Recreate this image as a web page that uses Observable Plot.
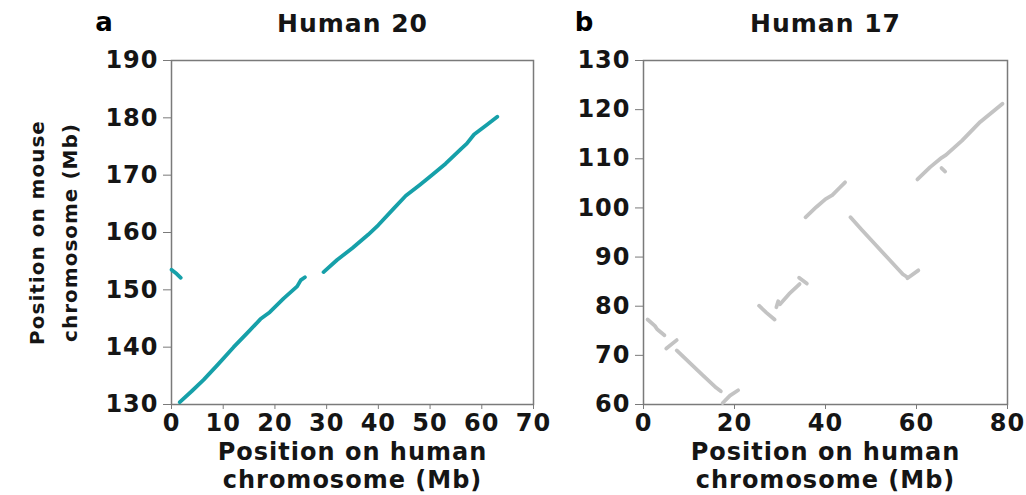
<!DOCTYPE html>
<html><head><meta charset="utf-8">
<script src="https://cdn.jsdelivr.net/npm/d3@7"></script>
<script src="https://cdn.jsdelivr.net/npm/@observablehq/plot@0.6"></script>
<style>
body{margin:0;background:#fff;}
#wrap{position:relative;width:1026px;height:495px;overflow:hidden;background:#fff;}
.panel{position:absolute;top:0;}
#wrap svg text{letter-spacing:1px;}
</style></head><body><div id="wrap"></div>
<script>
// ---- Panel a: Human 20 vs mouse (teal) ----
const titleA = "Human 20";
const xTicksA = [0, 10, 20, 30, 40, 50, 60, 70];
const yTicksA = [130, 140, 150, 160, 170, 180, 190];
const h20seg1 = [[0.0, 153.5], [1.0, 152.8], [1.8, 152.1]];
const h20seg2 = [[1.6, 130.4], [4.0, 132.4], [6.2, 134.3], [9.0, 137.0], [12.0, 140.0], [15.0, 142.8],
                 [17.2, 144.9], [19.0, 146.1], [21.7, 148.5], [24.3, 150.6], [25.0, 151.7], [25.8, 152.2]];
const h20seg3 = [[29.4, 153.1], [32.0, 155.2], [35.0, 157.3], [38.0, 159.6], [40.0, 161.3], [43.0, 164.2],
                 [45.3, 166.4], [48.0, 168.3], [50.2, 169.9], [53.0, 172.0], [56.0, 174.6], [57.1, 175.5],
                 [58.5, 177.1], [61.0, 178.8], [63.0, 180.2]];

// ---- Panel b: Human 17 vs mouse (grey) ----
const titleB = "Human 17";
const xTicksB = [0, 20, 40, 60, 80];
const yTicksB = [60, 70, 80, 90, 100, 110, 120, 130];
const h17s1 = [[0.9, 77.3], [2.5, 76.0], [3.0, 75.3], [4.6, 74.1]];
const h17s2 = [[5.0, 71.4], [7.3, 73.1]];
const h17s3 = [[7.3, 71.0], [10.0, 68.6], [13.0, 66.0], [16.0, 63.4], [17.0, 62.7]];
const h17s4 = [[17.4, 60.3], [19.0, 61.8], [20.8, 62.9]];
const h17s5 = [[25.4, 80.1], [27.0, 78.7], [28.8, 77.3]];
const h17s6 = [[29.2, 79.8], [29.6, 81.0]];
const h17s7 = [[30.0, 80.4], [32.0, 82.5], [34.3, 84.5]];
const h17s8 = [[34.2, 85.8], [35.9, 84.6]];
const h17s9 = [[35.6, 98.1], [38.0, 100.2], [40.0, 101.8], [41.5, 102.6], [43.0, 104.0], [44.3, 105.2]];
const h17s10 = [[45.5, 98.1], [48.0, 95.5], [51.0, 92.5], [54.0, 89.5], [57.0, 86.5], [58.0, 85.9]];
const h17s11 = [[58.0, 85.7], [60.4, 87.3]];
const h17s12 = [[60.2, 105.8], [63.0, 108.3], [65.5, 110.2], [66.5, 110.8], [70.0, 113.7], [74.0, 117.5], [78.9, 121.2]];
const h17s13 = [[65.5, 108.1], [66.3, 107.4]];

const xLabel = "Position on human\nchromosome (Mb)";
const yLabel = "Position on mouse\nchromosome (Mb)";

function toRows(segs) {
  const rows = [];
  segs.forEach((s, i) => s.forEach(([x, y]) => rows.push({seg: i, x, y})));
  return rows;
}
const rowsA = toRows([h20seg1, h20seg2, h20seg3]);
const rowsB = toRows([h17s1, h17s2, h17s3, h17s4, h17s5, h17s6, h17s7, h17s8, h17s9, h17s10, h17s11, h17s12, h17s13]);

const FONT = "DejaVu Sans";
const ink = "#151515";
const axisGrey = "#7a7a7a";

function panel({width, mL, mR, xDomain, yDomain, xTicks, yTicks, rows, color, letter, title, letterDx, yLab}) {
  const marks = [
    Plot.frame({stroke: axisGrey, strokeWidth: 1.5}),
    Plot.axisX({ticks: xTicks, tickSize: 5, tickPadding: 4, stroke: axisGrey, fill: ink, label: null, tickFormat: d => String(d)}),
    Plot.axisY({ticks: yTicks, tickSize: 8, tickPadding: 5, stroke: axisGrey, fill: ink, label: null, tickFormat: d => String(d)}),
    Plot.line(rows, {x: "x", y: "y", z: "seg", stroke: color, strokeWidth: 3.8, strokeLinecap: "round", strokeLinejoin: "round"}),
    Plot.text([xLabel], {frameAnchor: "bottom", dy: 36, lineAnchor: "top", lineHeight: 1.15, fill: ink, fontSize: 24, fontWeight: "bold"}),
    Plot.text([title], {frameAnchor: "top", dy: -37, lineAnchor: "middle", fill: ink, fontSize: 25, fontWeight: "bold"}),
    Plot.text([letter], {frameAnchor: "top-left", dx: letterDx, dy: -38, lineAnchor: "middle", textAnchor: "middle", fill: "#000", fontSize: 26, fontWeight: "900"})
  ];
  if (yLab) marks.push(Plot.text([yLabel], {frameAnchor: "left", dx: -122, rotate: -90, lineAnchor: "middle", textAnchor: "middle", lineHeight: 1.65, fill: ink, fontSize: 20, fontWeight: "bold"}));
  return Plot.plot({
    width, height: 495,
    marginLeft: mL, marginRight: mR, marginTop: 60, marginBottom: 91,
    x: {domain: xDomain},
    y: {domain: yDomain},
    style: {fontFamily: FONT, fontSize: "24px", fontWeight: "bold", background: "transparent", color: ink, overflow: "visible"},
    marks
  });
}

const wrap = document.getElementById("wrap");
const a = panel({width: 560, mL: 171, mR: 27, xDomain: [0, 70], yDomain: [130, 190], xTicks: xTicksA, yTicks: yTicksA,
  rows: rowsA, color: "#16a0a9", letter: "a", title: titleA, letterDx: -67, yLab: true});
a.classList.add("panel"); a.style.left = "0px";
wrap.appendChild(a);
const b = panel({width: 466, mL: 83, mR: 19, xDomain: [0, 80], yDomain: [60, 130], xTicks: xTicksB, yTicks: yTicksB,
  rows: rowsB, color: "#c3c3c3", letter: "b", title: titleB, letterDx: -59, yLab: false});
b.classList.add("panel"); b.style.left = "560px";
wrap.appendChild(b);
</script></body></html>
